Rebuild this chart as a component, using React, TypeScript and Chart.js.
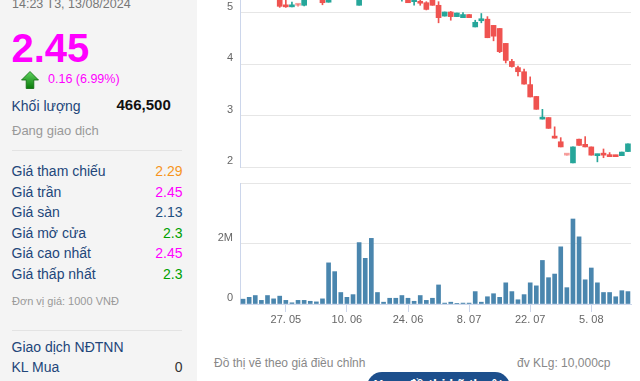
import React, { useEffect, useRef } from "react";
import { Chart, registerables } from "chart.js";

Chart.register(...registerables);

// ---- data ----
const dates = [
  "16. 05", "17. 05", "20. 05", "21. 05", "22. 05", "23. 05", "24. 05", "27. 05", "28. 05", "29. 05", "30. 05", "31. 05",
  "3. 06", "4. 06", "5. 06", "6. 06", "7. 06", "10. 06", "11. 06", "12. 06", "13. 06", "14. 06", "17. 06", "18. 06", "19. 06", "20. 06", "21. 06", "24. 06", "25. 06", "26. 06", "27. 06", "28. 06",
  "1. 07", "2. 07", "3. 07", "4. 07", "5. 07", "8. 07", "9. 07", "10. 07", "11. 07", "12. 07", "15. 07", "16. 07", "17. 07", "18. 07", "19. 07", "22. 07", "23. 07", "24. 07", "25. 07", "26. 07", "29. 07", "30. 07", "31. 07",
  "1. 08", "2. 08", "5. 08", "6. 08", "7. 08", "8. 08", "9. 08", "12. 08", "13. 08",
];
const xTickLabels = ["27. 05", "10. 06", "24. 06", "8. 07", "22. 07", "5. 08"];

const opens = [
  5.32, 5.36, 5.42, 5.38, 5.34, 5.30, 5.29, 5.14, 5.11, 5.14, 5.14, 5.30, 5.35, 5.24, 5.20, 5.34,
  5.42, 5.38, 5.40, 5.14, 5.38, 5.45, 5.40, 5.36, 5.35, 5.32, 5.28, 5.32, 5.21, 5.21, 5.19, 5.28,
  5.14, 4.93, 5.01, 4.92, 4.90, 4.96, 4.72, 4.84, 4.87, 4.75, 4.69, 4.40, 4.05, 3.93, 3.85, 3.60,
  3.37, 2.93, 2.96, 2.60, 2.49, 2.23, 2.08, 2.54, 2.44, 2.39, 2.22, 2.26, 2.24, 2.23, 2.22, 2.30,
];
const highs = [
  5.40, 5.45, 5.48, 5.42, 5.38, 5.35, 5.31, 5.25, 5.20, 5.16, 5.32, 5.38, 5.40, 5.27, 5.36, 5.46,
  5.48, 5.44, 5.45, 5.40, 5.50, 5.55, 5.44, 5.40, 5.40, 5.36, 5.35, 5.34, 5.30, 5.24, 5.21, 5.30,
  5.21, 5.01, 5.02, 4.99, 5.00, 4.96, 4.85, 4.98, 4.92, 4.75, 4.69, 4.40, 4.09, 3.96, 3.90, 3.75,
  3.37, 3.12, 2.96, 2.78, 2.57, 2.23, 2.39, 2.54, 2.59, 2.39, 2.25, 2.35, 2.28, 2.23, 2.29, 2.45,
];
const lows = [
  5.28, 5.33, 5.36, 5.31, 5.28, 5.26, 5.10, 5.10, 5.11, 5.12, 5.13, 5.28, 5.30, 5.15, 5.20, 5.30,
  5.36, 5.32, 5.30, 5.14, 5.34, 5.38, 5.33, 5.32, 5.30, 5.28, 5.22, 5.19, 5.14, 5.14, 5.05, 5.14,
  4.80, 4.93, 4.85, 4.92, 4.90, 4.90, 4.72, 4.80, 4.51, 4.45, 4.22, 4.02, 3.94, 3.77, 3.61, 3.36,
  3.12, 2.93, 2.75, 2.56, 2.39, 2.23, 2.08, 2.42, 2.39, 2.23, 2.10, 2.18, 2.20, 2.20, 2.22, 2.30,
];
const closes = [
  5.36, 5.42, 5.38, 5.34, 5.30, 5.29, 5.12, 5.11, 5.12, 5.14, 5.30, 5.35, 5.33, 5.19, 5.34, 5.42,
  5.38, 5.40, 5.33, 5.38, 5.45, 5.40, 5.36, 5.35, 5.32, 5.30, 5.32, 5.19, 5.28, 5.18, 5.06, 5.14,
  4.90, 5.01, 4.92, 4.99, 4.96, 4.90, 4.81, 4.87, 4.51, 4.54, 4.24, 4.07, 3.95, 3.85, 3.61, 3.36,
  3.12, 2.96, 2.75, 2.56, 2.39, 2.23, 2.39, 2.42, 2.39, 2.23, 2.25, 2.23, 2.20, 2.20, 2.29, 2.45,
];
const volumes = [
  160000, 220000, 280000, 120000, 280000, 170000, 260000, 120000, 40000, 120000, 120000, 90000, 70000, 170000,
  1360000, 1070000, 380000, 220000, 310000, 2030000, 1510000, 2170000,
  380000, 60000, 190000, 190000, 280000, 190000, 90000, 280000, 120000, 190000,
  630000, 30000, 60000, 5000, 30000, 30000,
  410000, 60000, 240000, 340000, 220000, 700000, 410000, 140000, 310000, 700000,
  600000, 1440000, 870000, 990000, 1890000, 540000, 2810000, 2220000, 800000, 1190000,
  700000, 380000, 380000, 240000, 440000, 410000,
];
const priceTicks = [2, 3, 4, 5];
const volumeTicks = [0, 2000000, 4000000];

const UP = "#26a69a";
const DOWN = "#ef5350";
const FLAT = "rgba(239,83,80,0.55)";
const VOL = "#4a86ae";
const FONT = '"Liberation Sans", Arial, sans-serif';

function Txt(p: { x: number; y: number; size: number; color: string; bold?: boolean; right?: boolean; children: any }) {
  const top = p.y - 0.8465 * p.size;
  const style: any = {
    position: "absolute",
    top,
    fontSize: p.size,
    lineHeight: p.size + "px",
    color: p.color,
    fontWeight: p.bold ? "bold" : "normal",
    whiteSpace: "nowrap",
  };
  if (p.right) style.right = 640 - p.x;
  else style.left = p.x;
  return <div style={style}>{p.children}</div>;
}

export default function App() {
  const candleRef = useRef<HTMLCanvasElement>(null);
  const volRef = useRef<HTMLCanvasElement>(null);

  useEffect(() => {
    Chart.defaults.font.family = FONT;
    const colors = opens.map((o, i) => (closes[i] > o ? UP : closes[i] < o ? DOWN : FLAT));
    const yFit = (s: any) => {
      s.width = 40;
      s.paddingTop = 0;
      s.paddingBottom = 0;
    };
    const c1 = new Chart(candleRef.current as HTMLCanvasElement, {
      type: "bar",
      data: {
        labels: dates,
        datasets: [
          {
            data: opens.map((o, i) => [o, closes[i]]),
            backgroundColor: colors,
            barThickness: 5,
            minBarLength: 2,
            grouped: false,
            order: 0,
            borderWidth: 0,
          } as any,
          {
            data: lows.map((l, i) => [l, highs[i]]),
            backgroundColor: colors,
            barThickness: 1,
            grouped: false,
            order: 1,
            borderWidth: 0,
          } as any,
        ],
      },
      options: {
        animation: false,
        responsive: false,
        events: [],
        plugins: { legend: { display: false }, tooltip: { enabled: false } },
        layout: { padding: { left: 0, right: 9, top: 0, bottom: 2 } },
        scales: {
          x: { display: false, offset: true },
          y: {
            min: 2,
            max: 6,
            afterBuildTicks: (s: any) => {
              s.ticks = priceTicks.map((v) => ({ value: v }));
            },
            afterFit: yFit,
            ticks: { font: { size: 11 }, color: "#666", padding: 7, labelOffset: -6 },
            grid: { color: "#e6e6e6", drawTicks: false },
            border: { color: "#ccd6eb" },
          },
        },
      } as any,
    });

    const c2 = new Chart(volRef.current as HTMLCanvasElement, {
      type: "bar",
      data: {
        labels: dates,
        datasets: [{ data: volumes, backgroundColor: VOL, barThickness: 4, borderWidth: 0 }],
      },
      options: {
        animation: false,
        responsive: false,
        events: [],
        plugins: { legend: { display: false }, tooltip: { enabled: false } },
        layout: { padding: { left: 0, right: 9, top: 0, bottom: 0 } },
        scales: {
          x: {
            offset: true,
            afterBuildTicks: (s: any) => {
              s.ticks = xTickLabels.map((l) => ({ value: dates.indexOf(l) }));
            },
            afterFit: (s: any) => {
              s.height = 36;
              s.paddingLeft = 0;
              s.paddingRight = 0;
            },
            grid: { offset: false, drawOnChartArea: false, drawTicks: true, tickLength: 8, color: "#ccd6eb" },
            border: { color: "#ccd6eb" },
            ticks: { autoSkip: false, maxRotation: 0, padding: 1, font: { size: 11 }, color: "#666" },
          },
          y: {
            min: 0,
            max: 4000000,
            afterBuildTicks: (s: any) => {
              s.ticks = volumeTicks.map((v) => ({ value: v }));
            },
            afterFit: yFit,
            ticks: {
              font: { size: 11 },
              color: "#666",
              padding: 7,
              labelOffset: -6,
              callback: (v: any) => (v === 0 ? "0" : v === 2000000 ? "2M" : ""),
            },
            grid: { color: "#e6e6e6", drawTicks: false },
            border: { color: "#ccd6eb" },
          },
        },
      } as any,
    });
    return () => {
      c1.destroy();
      c2.destroy();
    };
  }, []);

  const rows: [string, string, string][] = [
    ["Giá tham chiếu", "2.29", "#f7941d"],
    ["Giá trần", "2.45", "#ff00ff"],
    ["Giá sàn", "2.13", "#1f4f7f"],
    ["Giá mở cửa", "2.3", "#00a000"],
    ["Giá cao nhất", "2.45", "#ff00ff"],
    ["Giá thấp nhất", "2.3", "#00a000"],
  ];
  const NAVY = "#22467a";

  return (
    <div
      style={{
        position: "fixed",
        left: 0,
        top: 0,
        width: 640,
        height: 381,
        overflow: "hidden",
        background: "#fff",
        fontFamily: FONT,
      }}
    >
      <div style={{ position: "absolute", left: 0, top: 0, width: 197, height: 381, background: "#f4f4f4" }} />
      <Txt x={12} y={8.3} size={12.5} color="#777">14:23 T3, 13/08/2024</Txt>
      <Txt x={11.5} y={62.3} size={40} color="#ff00ff" bold>2.45</Txt>
      <svg style={{ position: "absolute", left: 21, top: 71 }} width={18} height={18} viewBox="0 0 18 18">
        <defs>
          <linearGradient id="ag" x1="0" y1="0" x2="0" y2="1">
            <stop offset="0" stopColor="#5fd35f" />
            <stop offset="1" stopColor="#0a7a0a" />
          </linearGradient>
        </defs>
        <polygon points="9,0.5 17.5,9 12.8,9 12.8,17.5 5.2,17.5 5.2,9 0.5,9" fill="url(#ag)" stroke="#0b6b0b" strokeWidth={0.8} />
      </svg>
      <Txt x={48} y={84} size={12.5} color="#ff00ff">0.16 (6.99%)</Txt>
      <Txt x={11.5} y={110.7} size={14} color={NAVY}>Khối lượng</Txt>
      <Txt x={116.5} y={109.3} size={15} color="#111" bold>466,500</Txt>
      <Txt x={12} y={135.5} size={13} color="#999">Đang giao dịch</Txt>
      <div style={{ position: "absolute", left: 12, top: 150, width: 170, height: 1, background: "#e3e3e3" }} />
      {rows.map((r, i) => (
        <React.Fragment key={r[0]}>
          <Txt x={11.5} y={176 + i * 20.5} size={14} color={NAVY}>{r[0]}</Txt>
          <Txt x={182.5} y={176 + i * 20.5} size={14} color={r[2]} right>{r[1]}</Txt>
        </React.Fragment>
      ))}
      <Txt x={12} y={305.3} size={11} color="#999">Đơn vị giá: 1000 VNĐ</Txt>
      <div style={{ position: "absolute", left: 12, top: 330, width: 170, height: 1, background: "#e3e3e3" }} />
      <Txt x={11.5} y={351.7} size={14} color={NAVY}>Giao dịch NĐTNN</Txt>
      <Txt x={11.5} y={371.7} size={14} color={NAVY}>KL Mua</Txt>
      <Txt x={182.5} y={371.7} size={14} color="#333" right>0</Txt>
      <Txt x={11.5} y={392.2} size={14} color={NAVY}>KL Bán</Txt>
      <Txt x={182.5} y={392.2} size={14} color="#333" right>0</Txt>

      <canvas
        ref={candleRef}
        width={440}
        height={208}
        style={{ position: "absolute", left: 200, top: -39, width: 440, height: 208 }}
      />
      <canvas
        ref={volRef}
        width={440}
        height={157}
        style={{ position: "absolute", left: 200, top: 183, width: 440, height: 157 }}
      />

      <Txt x={214} y={366.7} size={12} color="#888">Đồ thị vẽ theo giá điều chỉnh</Txt>
      <Txt x={610.5} y={366.7} size={12} color="#888" right>đv KLg: 10,000cp</Txt>
      <div
        style={{
          position: "absolute",
          left: 366.7,
          top: 371.7,
          width: 143.3,
          height: 30,
          borderRadius: 15,
          background: "#1d4f8c",
          color: "#fff",
          fontSize: 14,
          fontWeight: "bold",
          textAlign: "center",
          whiteSpace: "nowrap",
          overflow: "hidden",
        }}
      >
        <div style={{ position: "absolute", left: 0, right: 0, top: 6, lineHeight: "14px" }}>Xem đồ thị kỹ thuật</div>
      </div>
    </div>
  );
}
